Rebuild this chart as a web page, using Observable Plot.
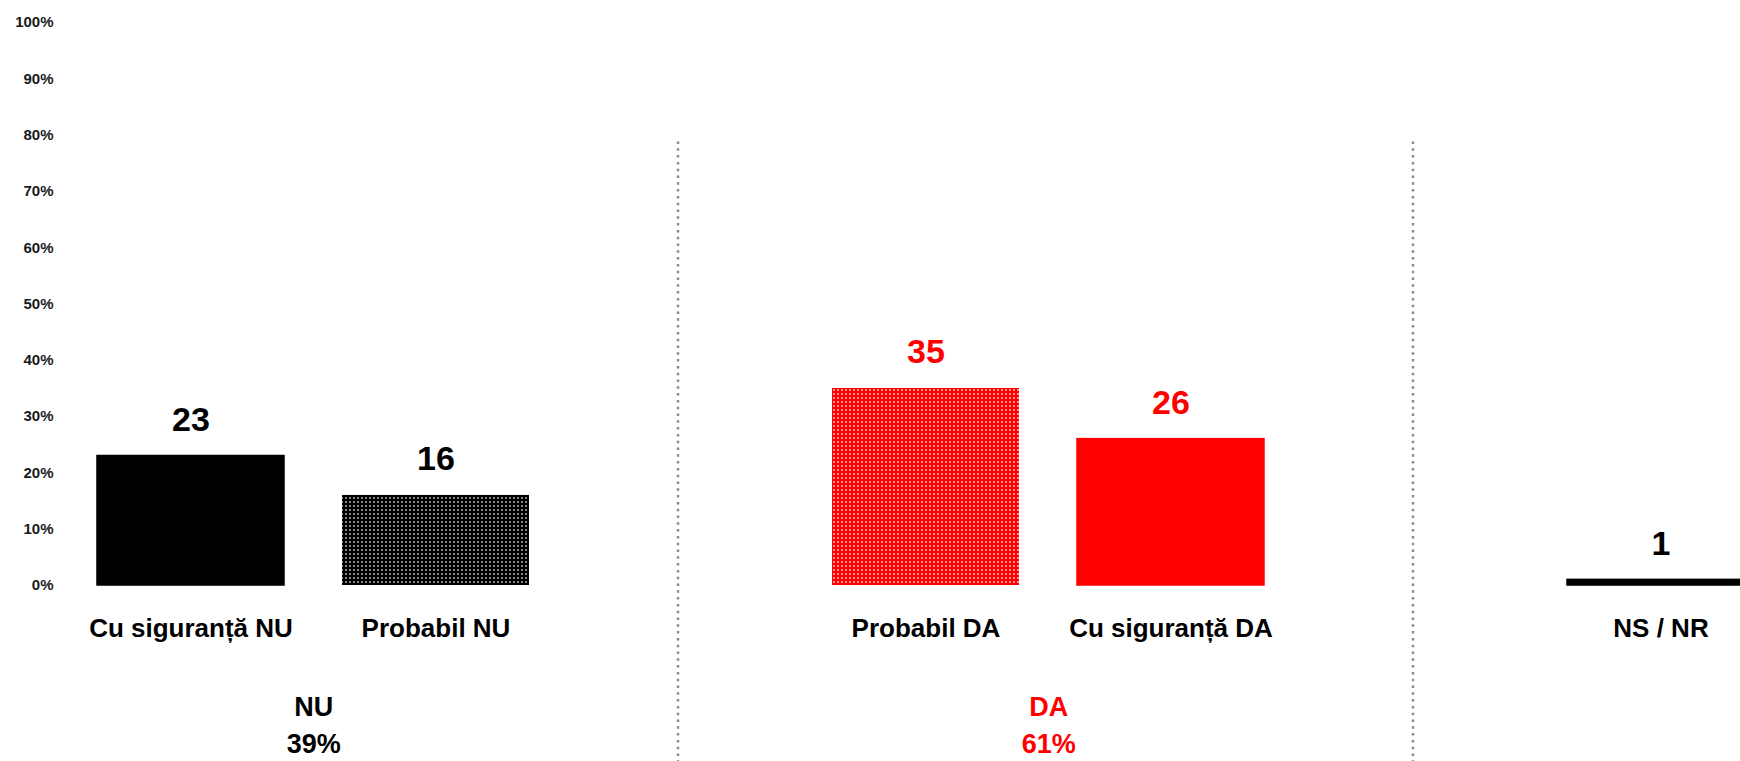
<!DOCTYPE html>
<html>
<head>
<meta charset="utf-8">
<script src="https://cdn.jsdelivr.net/npm/d3@7"></script>
<script src="https://cdn.jsdelivr.net/npm/@observablehq/plot@0.6"></script>
<style>
  html, body { margin: 0; padding: 0; background: #fff; overflow: hidden; }
  #chart svg { display: block; font-family: "Liberation Sans", Arial, sans-serif; }
</style>
</head>
<body>
<div id="chart"></div>
<script>
// ---- data ----
const categories = ["Cu siguranță NU", "Probabil NU", "Probabil DA", "Cu siguranță DA", "NS / NR"];
const values = [23, 16, 35, 26, 1];
const groups = ["NU", "NU", "DA", "DA", "NS"];
const slots = ["Cu siguranță NU", "Probabil NU", "sep1", "Probabil DA", "Cu siguranță DA", "sep2", "NS / NR"];
const separators = ["sep1", "sep2"];
const groupLabels = ["NU", "DA"];
const groupTotals = [39, 61];
const groupFirst = ["Cu siguranță NU", "Probabil DA"];
const yTicks = [0, 10, 20, 30, 40, 50, 60, 70, 80, 90, 100];

// ---- styling ----
const RED = "#ff0000";
const fills = {
  "Cu siguranță NU": "#000000",
  "Probabil NU": "url(#dotsBlack)",
  "Probabil DA": "url(#dotsRed)",
  "Cu siguranță DA": RED,
  "NS / NR": "#000000"
};
const groupColor = g => g === "DA" ? RED : "#000000";

const data = categories.map((c, i) => ({cat: c, value: values[i], group: groups[i]}));
const groupData = groupLabels.map((g, i) => ({label: g, total: groupTotals[i], first: groupFirst[i]}));

const xRange = [65.5, 1785.4];
const step = (xRange[1] - xRange[0]) / slots.length;
const font = "Liberation Sans, Arial, sans-serif";

const chart = Plot.plot({
  width: 1740,
  height: 761,
  marginTop: 141.5,
  marginBottom: 0,
  marginLeft: 60,
  marginRight: 0,
  style: {fontFamily: font, background: "white"},
  x: {type: "band", domain: slots, range: xRange, paddingInner: 0.237, paddingOuter: 0.12, axis: null},
  y: {domain: [0, 100], range: [585, 22], label: null},
  marks: [
    Plot.axisY({ticks: yTicks, tickFormat: d => d + "%", tickSize: 0, tickPadding: 7, fontSize: 15, fontWeight: "bold", fill: "#1a1a1a", label: null}),
    Plot.ruleX(separators, {x: d => d, dx: -3, stroke: "#8a8a8a", strokeWidth: 2.5, strokeDasharray: "2.5,4.3"}),
    Plot.barY(data, {
      x: "cat", y: "value",
      fill: d => fills[d.cat],
      stroke: d => fills[d.cat].startsWith("url") ? "none" : fills[d.cat],
      strokeWidth: 1.5,
      clip: true
    }),
    Plot.text(data, {
      x: "cat", y: "value", text: d => String(d.value),
      dy: -36, fill: d => groupColor(d.group),
      fontSize: 34, fontWeight: "bold"
    }),
    Plot.text(data, {
      x: "cat", y: d => 0, text: "cat",
      dy: 43, fill: "#000", fontSize: 26, fontWeight: "bold"
    }),
    Plot.text(groupData, {
      x: "first", y: d => 0, text: d => `${d.label}\n${d.total}%`,
      dx: step / 2, dy: 137, lineHeight: 1.4,
      fill: d => groupColor(d.label), fontSize: 27, fontWeight: "bold"
    })
  ]
});

// dotted fill patterns used by the "Probabil" bars
const defs = d3.select(chart).insert("defs", ":first-child");
function dots(id, base, opacity) {
  const p = defs.append("pattern").attr("id", id).attr("patternUnits", "userSpaceOnUse")
    .attr("width", 4).attr("height", 4);
  p.append("rect").attr("width", 4).attr("height", 4).attr("fill", base);
  p.append("rect").attr("x", 1).attr("y", 1).attr("width", 2).attr("height", 2)
    .attr("fill", "#ffffff").attr("fill-opacity", opacity);
}
dots("dotsBlack", "#000000", 0.5);
dots("dotsRed", RED, 0.6);

document.getElementById("chart").appendChild(chart);
</script>
</body>
</html>
